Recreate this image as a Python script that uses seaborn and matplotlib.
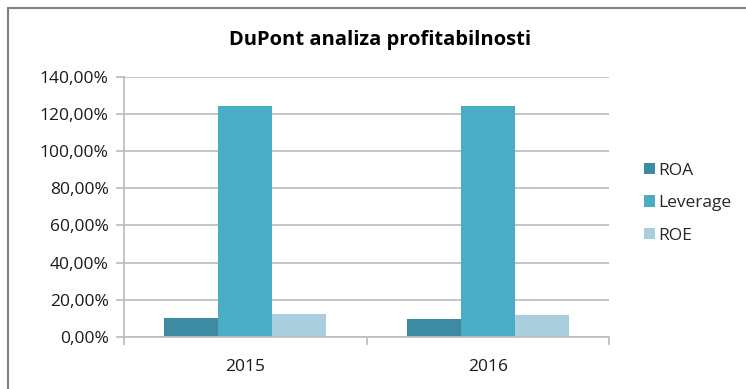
import matplotlib
matplotlib.use("Agg")
import matplotlib.pyplot as plt
import matplotlib.ticker as mticker
from matplotlib.lines import Line2D
from matplotlib.patches import Patch
import seaborn as sns
import pandas as pd

years = ["2015", "2016"]
series = ["ROA", "Leverage", "ROE"]
roa = [9.9, 9.4]
leverage = [124.3, 124.3]
roe = [12.3, 11.7]
y_ticks = [0, 20, 40, 60, 80, 100, 120, 140]
title = "DuPont analiza profitabilnosti"

colors = ["#3C8BA3", "#4BACC6", "#A9CFDE"]

df = pd.DataFrame({
    "year": years * 3,
    "series": [s for s in series for _ in years],
    "value": roa + leverage + roe,
})

sns.set_theme(style="white")
plt.rcParams["font.family"] = ["Open Sans", "DejaVu Sans"]

fig = plt.figure(figsize=(7.46, 3.89), dpi=100)
ax = fig.add_axes([0.1662, 0.1344, 0.6502, 0.6676])

sns.barplot(data=df, x="year", y="value", hue="series", order=years,
            hue_order=series, palette=colors, width=0.666, gap=0,
            saturation=1, linewidth=0, ax=ax, legend=False)

ax.set_ylim(0, 140)
ax.set_xlim(-0.5, 1.5)
ax.set_yticks(y_ticks)
ax.yaxis.set_major_formatter(mticker.FuncFormatter(lambda v, p: f"{v:.2f}%".replace(".", ",")))
ax.yaxis.grid(True, color="#BFBFBF", linewidth=1.3)
ax.set_axisbelow(True)
ax.set_xlabel("")
ax.set_ylabel("")

for side in ["top", "right"]:
    ax.spines[side].set_visible(False)
for side in ["left", "bottom"]:
    ax.spines[side].set_color("#BFBFBF")
    ax.spines[side].set_linewidth(1.3)

ax.tick_params(axis="y", left=True, length=6, width=1.3, color="#BFBFBF",
               labelsize=12.5, labelcolor="#1a1a1a", pad=5)
ax.tick_params(axis="x", which="major", length=0, labelsize=12.5,
               labelcolor="#1a1a1a", pad=16)
ax.set_xticks([-0.5, 0.5, 1.5], minor=True)
ax.tick_params(axis="x", which="minor", bottom=True, length=6, width=1.3,
               color="#BFBFBF")

fig.text(0.51, 0.897, title, ha="center", va="center", fontsize=14.5,
         fontweight="bold", color="#000000")

handles = [Patch(facecolor=c, edgecolor="none") for c in colors]
fig.legend(handles, series, loc="center left", bbox_to_anchor=(0.851, 0.478),
           frameon=False, fontsize=12.5, handlelength=0.65, handleheight=0.65,
           handletextpad=0.2, labelspacing=0.95, borderpad=0)

# outer chart frame
fig.add_artist(Line2D([0.0107, 0.0107], [0, 0.979], transform=fig.transFigure,
                      color="#7F7F7F", linewidth=1.5))
fig.add_artist(Line2D([0.0107, 1.0], [0.979, 0.979], transform=fig.transFigure,
                      color="#7F7F7F", linewidth=1.5))

fig.savefig("out.png", dpi=100, facecolor="white")
